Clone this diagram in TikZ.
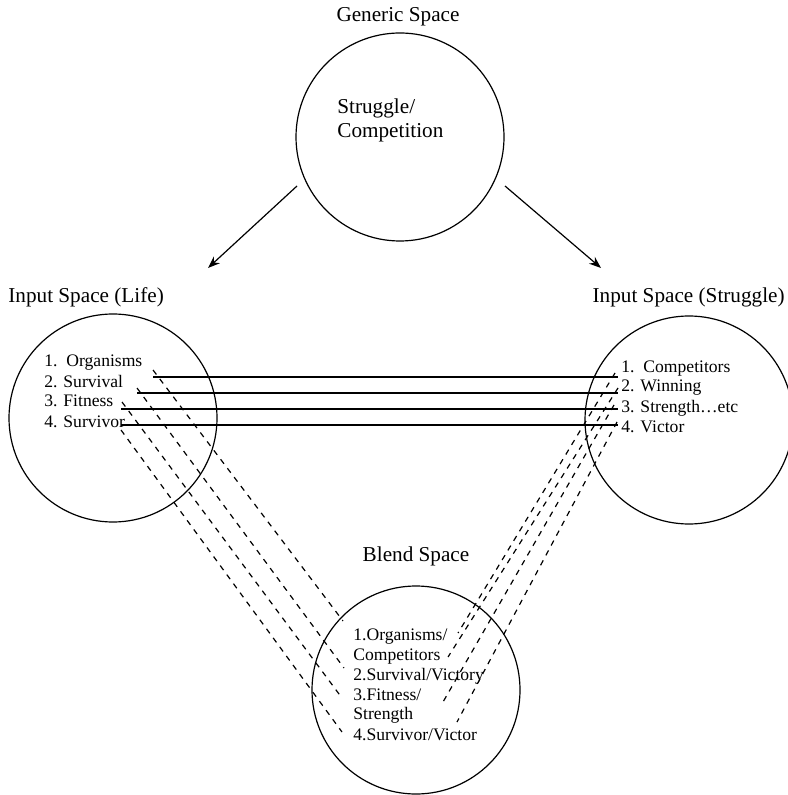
\documentclass[tikz,border=0pt]{standalone}
\usepackage{fontspec}
\setmainfont{Liberation Serif}
\usetikzlibrary{arrows.meta}
\begin{document}
\begin{tikzpicture}[x=0.5pt,y=-0.5pt,
  spacecircle/.style={circle,draw,line width=0.6pt,minimum size=104pt,inner sep=0pt},
  lbl/.style={font=\fontsize{10.6}{12}\selectfont,inner sep=0pt,anchor=base},
  lblw/.style={font=\fontsize{10.6}{12}\selectfont,inner sep=0pt,anchor=base west},
  lble/.style={font=\fontsize{10.6}{12}\selectfont,inner sep=0pt,anchor=base east},
  item/.style={font=\fontsize{8.8}{10}\selectfont,inner sep=0pt,anchor=base west},
  link/.style={line width=0.6pt},
  dlink/.style={line width=0.6pt,dash pattern=on 2.8pt off 2.8pt},
  arr/.style={line width=0.6pt,-{Stealth[length=6pt,width=4.5pt]}}]
\useasboundingbox (0,0) rectangle (787,795);

% circles
\node[spacecircle] (gen) at (400,137) {};
\node[spacecircle] (life) at (113,418) {};
\node[spacecircle] (strug) at (689,420) {};
\node[spacecircle] (blend) at (416,690) {};

% titles
\node[lbl] (tgen) at (398,22) {Generic Space};
\node[lblw] (tlife) at (8,303) {Input Space (Life)};
\node[lble] (tstrug) at (785,303) {Input Space (Struggle)};
\node[lbl] (tblend) at (416,561) {Blend Space};

% generic content
\node[lblw] (g1) at (337,114) {Struggle/};
\node[lblw] (g2) at (337,138) {Competition};

% arrows
\coordinate (ga) at (297,186);
\coordinate (gb) at (505,186);
\coordinate (ta) at (208,268);
\coordinate (tb) at (601,268);
\draw[arr] (ga) -- (ta);
\draw[arr] (gb) -- (tb);

% left items
\node[item] (l1) at (44,367) {1.~\ Organisms};
\node[item] (l2) at (44,387) {2. Survival};
\node[item] (l3) at (44,407) {3. Fitness};
\node[item] (l4) at (44,427) {4. Survivor};

% right items
\node[item] (r1) at (621,372) {1.~\ Competitors};
\node[item] (r2) at (621,392) {2. Winning};
\node[item] (r3) at (621,412) {3. Strength…etc};
\node[item] (r4) at (621,432) {4. Victor};

% blend items
\node[item] (b1) at (353,640) {1.Organisms/};
\node[item] (b2) at (353,660) {Competitors};
\node[item] (b3) at (353,680) {2.Survival/Victory};
\node[item] (b4) at (353,700) {3.Fitness/};
\node[item] (b5) at (353,719) {Strength};
\node[item] (b6) at (353,740) {4.Survivor/Victor};

% solid cross-space links
\coordinate (sa1) at (153,377); \coordinate (sb1) at (618,377);
\coordinate (sa2) at (137,393); \coordinate (sb2) at (618,393);
\coordinate (sa3) at (121,409); \coordinate (sb3) at (618,409);
\coordinate (sa4) at (121,425); \coordinate (sb4) at (618,425);
\draw[link] (sa1) -- (sb1);
\draw[link] (sa2) -- (sb2);
\draw[link] (sa3) -- (sb3);
\draw[link] (sa4) -- (sb4);

% dashed links from left space to blend
\coordinate (la1) at (153,370); \coordinate (lb1) at (343,621);
\coordinate (la2) at (137,388); \coordinate (lb2) at (344,668);
\coordinate (la3) at (122,402); \coordinate (lb3) at (342,698);
\coordinate (la4) at (121,430); \coordinate (lb4) at (342,732);
\draw[dlink] (la1) -- (lb1);
\draw[dlink] (la2) -- (lb2);
\draw[dlink] (la3) -- (lb3);
\draw[dlink] (la4) -- (lb4);

% dashed links from right space to blend
\coordinate (ra1) at (615,373); \coordinate (rb1) at (458,633);
\coordinate (ra2) at (618,388); \coordinate (rb2) at (448,657);
\coordinate (ra3) at (614,405); \coordinate (rb3) at (443,702);
\coordinate (ra4) at (617,422); \coordinate (rb4) at (457,722);
\draw[dlink] (ra1) -- (rb1);
\draw[dlink] (ra2) -- (rb2);
\draw[dlink] (ra3) -- (rb3);
\draw[dlink] (ra4) -- (rb4);
\end{tikzpicture}
\end{document}
